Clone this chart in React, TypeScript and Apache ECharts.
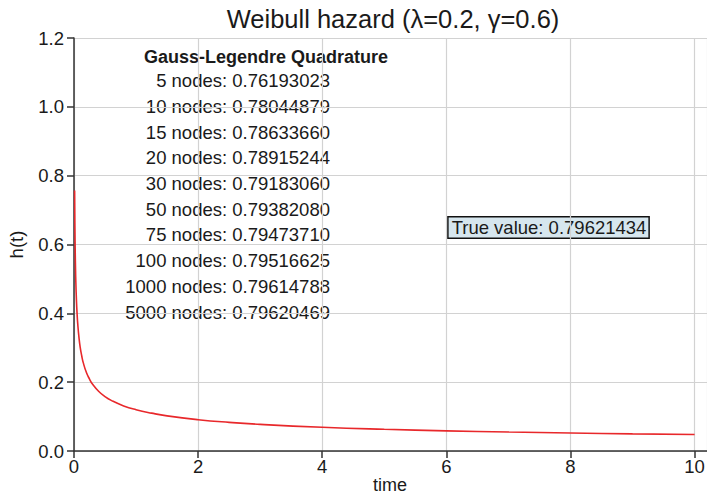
import React, { useEffect, useRef } from "react";
import * as echarts from "echarts";

const titleText = "Weibull hazard (\u03bb=0.2, \u03b3=0.6)";
const xAxisName = "time";
const timeValues = [0.01, 0.0125, 0.015, 0.02, 0.025, 0.03, 0.04, 0.05, 0.06, 0.08, 0.1, 0.125, 0.15, 0.2, 0.25, 0.3, 0.4, 0.5, 0.6, 0.8, 1, 1.25, 1.5, 2, 2.5, 3, 4, 5, 6, 7, 8, 9, 10];
const hazardValues = [0.757, 0.692, 0.644, 0.574, 0.525, 0.488, 0.435, 0.398, 0.37, 0.33, 0.301, 0.276, 0.256, 0.228, 0.209, 0.194, 0.173, 0.158, 0.147, 0.131, 0.12, 0.11, 0.102, 0.091, 0.0832, 0.0773, 0.0689, 0.063, 0.0586, 0.0551, 0.0522, 0.0498, 0.0478];
const quadHeader = "Gauss-Legendre Quadrature";
const quadNodes = [5, 10, 15, 20, 30, 50, 75, 100, 1000, 5000];
const quadValues = ["0.76193023", "0.78044879", "0.78633660", "0.78915244", "0.79183060", "0.79382080", "0.79473710", "0.79516625", "0.79614788", "0.79620469"];
const trueValue = "0.79621434";

const FONT = "'Liberation Sans', Arial, Helvetica, sans-serif";
const TXT = "#1a1a1a";

export default function App() {
  const ref = useRef<HTMLDivElement>(null);
  useEffect(() => {
    document.body.style.margin = "0";
    const chart = echarts.init(ref.current!, null, { renderer: "svg" });
    const data = timeValues.map((t, i) => [t, hazardValues[i]]);
    const graphics: any[] = [
      {
        type: "text",
        x: 266,
        y: 57,
        style: {
          text: quadHeader,
          align: "center",
          verticalAlign: "middle",
          font: `bold 18px ${FONT}`,
          fill: TXT,
        },
      },
      {
        type: "text",
        x: 390,
        y: 485,
        style: {
          text: xAxisName,
          align: "center",
          verticalAlign: "middle",
          font: `18px ${FONT}`,
          fill: TXT,
        },
      },
    ];
    quadNodes.forEach((n, i) => {
      graphics.push({
        type: "text",
        x: 330,
        y: 80.7 + i * 25.7,
        style: {
          text: `${n} nodes: ${quadValues[i]}`,
          align: "right",
          verticalAlign: "middle",
          font: `18.5px ${FONT}`,
          fill: TXT,
        },
      });
    });
    graphics.push({
      type: "text",
      x: 548.5,
      y: 227.5,
      style: {
        text: `True value: ${trueValue}`,
        align: "center",
        verticalAlign: "middle",
        font: `18.5px ${FONT}`,
        fill: TXT,
        backgroundColor: "#d6e6ee",
        borderColor: "#111",
        borderWidth: 1.5,
        padding: [1, 2, 0, 3],
      },
    });
    chart.setOption({
      animation: false,
      backgroundColor: "#fff",
      title: {
        text: titleText,
        left: 388,
        top: 1,
        textAlign: "center",
        textStyle: { fontFamily: FONT, fontSize: 25.5, fontWeight: "normal", color: TXT },
      },
      grid: { left: 74, right: 0, top: 38, bottom: 45, containLabel: false, outerBoundsMode: "none" },
      xAxis: {
        type: "value",
        min: 0,
        max: 10.2,
        interval: 2,
        axisLine: { show: true, onZero: false, lineStyle: { color: "#333", width: 1.5 } },
        axisTick: { show: true, length: 7, lineStyle: { color: "#333", width: 1.5 } },
        axisLabel: { fontFamily: FONT, fontSize: 18.5, color: TXT, margin: 6, showMaxLabel: false, formatter: (v: number) => (v > 10 ? "" : String(v)) },
        splitLine: { show: true, lineStyle: { color: "#d2d2d2", width: 1.2 } },
      },
      yAxis: {
        type: "value",
        min: 0,
        max: 1.2,
        interval: 0.2,
        name: "h(t)",
        nameLocation: "middle",
        nameGap: 48,
        nameRotate: 90,
        nameTextStyle: { fontFamily: FONT, fontSize: 18.5, color: TXT },
        axisLine: { show: true, lineStyle: { color: "#333", width: 1.5 } },
        axisTick: { show: true, length: 7, lineStyle: { color: "#333", width: 1.5 } },
        axisLabel: { fontFamily: FONT, fontSize: 18.5, color: TXT, margin: 10, formatter: (v: number) => v.toFixed(1) },
        splitLine: { show: true, lineStyle: { color: "#d2d2d2", width: 1.2 } },
      },
      series: [
        {
          type: "line",
          data,
          showSymbol: false,
          smooth: true,
          lineStyle: { color: "#e8282b", width: 1.6 },
          itemStyle: { color: "#e8282b" },
        },
      ],
      graphic: graphics,
    });
    return () => chart.dispose();
  }, []);
  return <div ref={ref} style={{ width: 707, height: 496 }} />;
}
